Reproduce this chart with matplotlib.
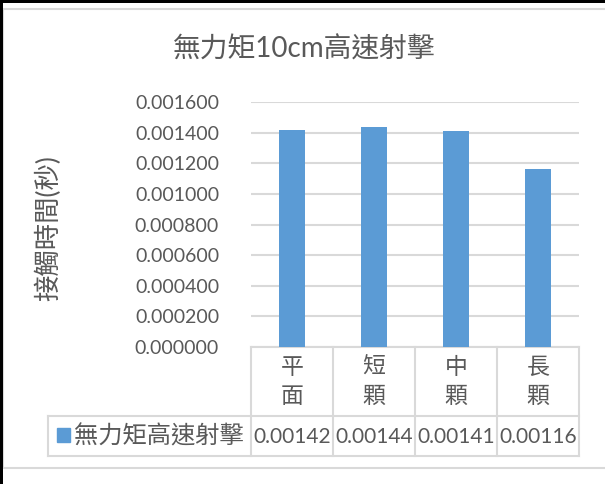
import matplotlib.pyplot as plt
from matplotlib.patches import Rectangle
from matplotlib.lines import Line2D
from matplotlib.transforms import blended_transform_factory

plt.rcParams['font.family'] = ['Lato', 'Noto Sans CJK TC', 'DejaVu Sans']

title = "無力矩10cm高速射擊"
ylabel = "接觸時間(秒)"
series_name = "無力矩高速射擊"
categories = ["平面", "短顆", "中顆", "長顆"]
values = [0.00142, 0.00144, 0.00141, 0.00116]
yticks = [0.0, 0.0002, 0.0004, 0.0006, 0.0008, 0.0010, 0.0012, 0.0014, 0.0016]

W, H = 605, 484
grey_text = "#595959"
grid_col = "#d9d9d9"
bar_col = "#5b9bd5"

fig = plt.figure(figsize=(W / 100, H / 100), dpi=100)

def fx(px):
    return px / W

def fy(py):
    return 1 - py / H

# chart frame and the dark edge of the screenshot
fig.patches.append(Rectangle((fx(3), fy(468)), fx(700), fy(9) - fy(468),
                             transform=fig.transFigure, fill=False,
                             edgecolor=grid_col, lw=1.5))
fig.patches.append(Rectangle((0, fy(2.5)), 1, 1, transform=fig.transFigure,
                             color="black", lw=0))
fig.patches.append(Rectangle((0, 0), fx(2.5), 1, transform=fig.transFigure,
                             color="black", lw=0))

left, right, top, bottom = 251, 579, 102, 347
ax = fig.add_axes([fx(left), fy(bottom), fx(right - left), fy(top) - fy(bottom)])

x = list(range(len(categories)))
ax.bar(x, values, width=0.31, color=bar_col, zorder=3)
ax.set_xlim(-0.5, len(categories) - 0.5)
ax.set_ylim(0, 0.0016)
ax.set_yticks(yticks)
ax.set_yticklabels([f"{v:.6f}" for v in yticks])
ax.tick_params(axis="y", length=0, pad=23, labelsize=14, labelcolor=grey_text)
ax.set_xticks([])
ax.grid(axis="y", color=grid_col, lw=1.5, zorder=0)
for s in ax.spines.values():
    s.set_visible(False)

fig.text(fx(304), fy(49), title, ha="center", va="center",
         fontsize=20, color=grey_text)
fig.text(fx(48), fy(228), ylabel, ha="center", va="center", rotation=90,
         fontsize=19, color=grey_text)

# data table under the plot area
tr = blended_transform_factory(ax.transData, ax.transAxes)
h = bottom - top

def ay(py):
    return (bottom - py) / h

def axx(px):
    return (px - left) / (right - left)

row1, row2 = 416, 456
lkw = dict(color=grid_col, lw=1.5, clip_on=False)

edges = [i - 0.5 for i in range(len(categories) + 1)]
for e in edges:
    ax.add_line(Line2D([e, e], [ay(bottom), ay(row2)], transform=tr, **lkw))
ax.add_line(Line2D([-0.5, edges[-1]], [ay(bottom), ay(bottom)], transform=tr, **lkw))
for r in (row1, row2):
    ax.add_line(Line2D([axx(48), 1], [ay(r), ay(r)],
                       transform=ax.transAxes, **lkw))
ax.add_line(Line2D([axx(48), axx(48)], [ay(row1), ay(row2)],
                   transform=ax.transAxes, **lkw))

for xi, cat, v in zip(x, categories, values):
    ax.text(xi, ay(382), "\n".join(cat), transform=tr,
            ha="center", va="center", fontsize=16.5, color=grey_text,
            linespacing=1.47)
    ax.text(xi, ay(437), f"{v:.5f}", transform=tr,
            ha="center", va="center", fontsize=15, color=grey_text)

ax.add_patch(Rectangle((axx(57), ay(442)), 13 / (right - left), 14 / h,
                       transform=ax.transAxes, color=bar_col, clip_on=False))
ax.text(axx(74), ay(436), series_name,
        transform=ax.transAxes, ha="left", va="center", fontsize=17.5,
        color=grey_text)

fig.savefig("out.png", dpi=100)
